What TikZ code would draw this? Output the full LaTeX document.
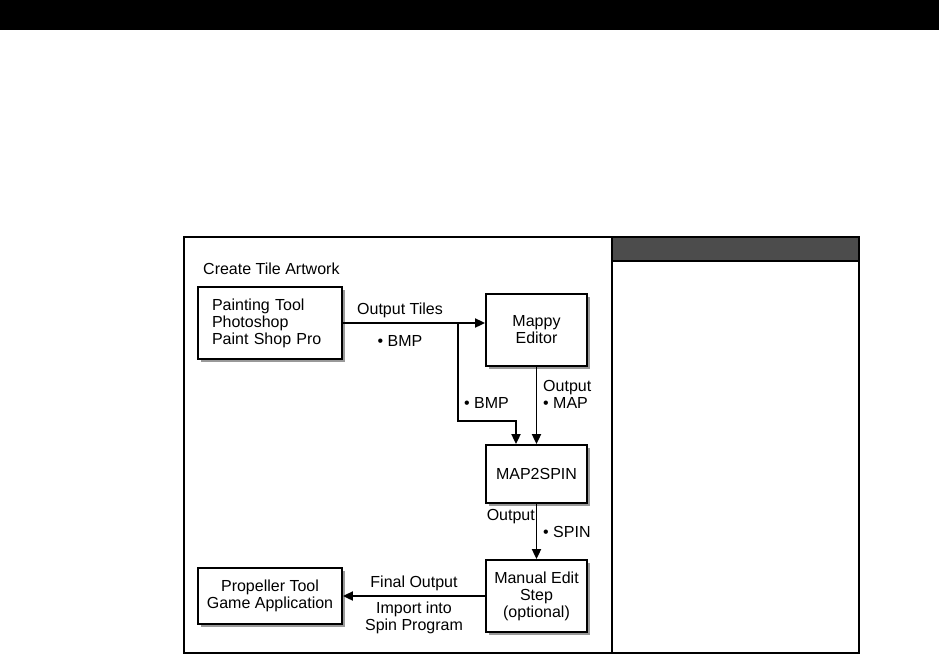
\documentclass[tikz,border=0pt]{standalone}
\usepackage{fontspec}
\setmainfont{Liberation Sans}
\usepackage{tikz}
\usetikzlibrary{arrows.meta, positioning, shadows}

\begin{document}
\begin{tikzpicture}[
    x=1pt, y=-1pt,
    tool/.style={rectangle, draw=black, line width=1.8pt, fill=white,
        drop shadow={shadow xshift=2.5pt, shadow yshift=-2.5pt, fill=black!40, opacity=1},
        minimum height=72pt, align=center, inner sep=0pt, font=\fontsize{16}{17}\selectfont},
    wide/.style={tool, minimum width=144pt},
    narrow/.style={tool, minimum width=101pt},
    lbl/.style={inner sep=0pt, align=center, font=\fontsize{16}{17}\selectfont},
    arrow/.style={-{Triangle[length=10pt, width=9pt]}, line width=1.8pt},
    panel/.style={draw=black, line width=1.6pt}
]
\useasboundingbox (0,0) rectangle (939,654);

% Page bar and panels
\fill[black] (0,0) rectangle (939,30);
\draw[panel] (184,237) rectangle (612,653);
\fill[black!70] (612,237) rectangle (859,261);
\draw[panel] (612,237) rectangle (859,653);
\draw[panel] (612,261) -- (859,261);

% Tools
\node[wide, text width=116pt, align=left] (paint) at (270,323) {Painting Tool\\Photoshop\\Paint Shop Pro};
\node[narrow] (mappy) at (536.5,330) {Mappy\\Editor};
\node[narrow, minimum height=58pt] (conv) at (536.5,474) {MAP2SPIN};
\node[narrow] (manual) at (536.5,596) {Manual Edit\\Step\\(optional)};
\node[wide, minimum height=56pt] (prop) at (270,596) {Propeller Tool\\Game Application};

\node[lbl, anchor=west] (create) at (203,269) {Create Tile Artwork};

% Turn points
\coordinate (bmpsplit) at (458,323);
\coordinate (bmpturn) at (516,421);

% Arrows
\draw[arrow] (paint.east |- bmpsplit) -- (mappy.west |- bmpsplit);
\draw[arrow] (bmpsplit) |- (bmpturn) -- (bmpturn |- conv.north);
\draw[arrow] (mappy) -- (conv);
\draw[arrow] (conv) -- (manual);
\draw[arrow] (manual) -- (prop);

% Labels
\node[lbl] at (400,310) {Output Tiles};
\node[lbl] at (400,341) {\textbullet\ BMP};
\node[lbl, anchor=west] at (464,403) {\textbullet\ BMP};
\node[lbl, anchor=west, align=left] at (543,394) {Output\\\textbullet\ MAP};
\node[lbl, anchor=east] at (535,517) {Output};
\node[lbl, anchor=west] at (543,532) {\textbullet\ SPIN};
\node[lbl] at (414,583) {Final Output};
\node[lbl] at (414,618) {Import into\\Spin Program};

\end{tikzpicture}
\end{document}
